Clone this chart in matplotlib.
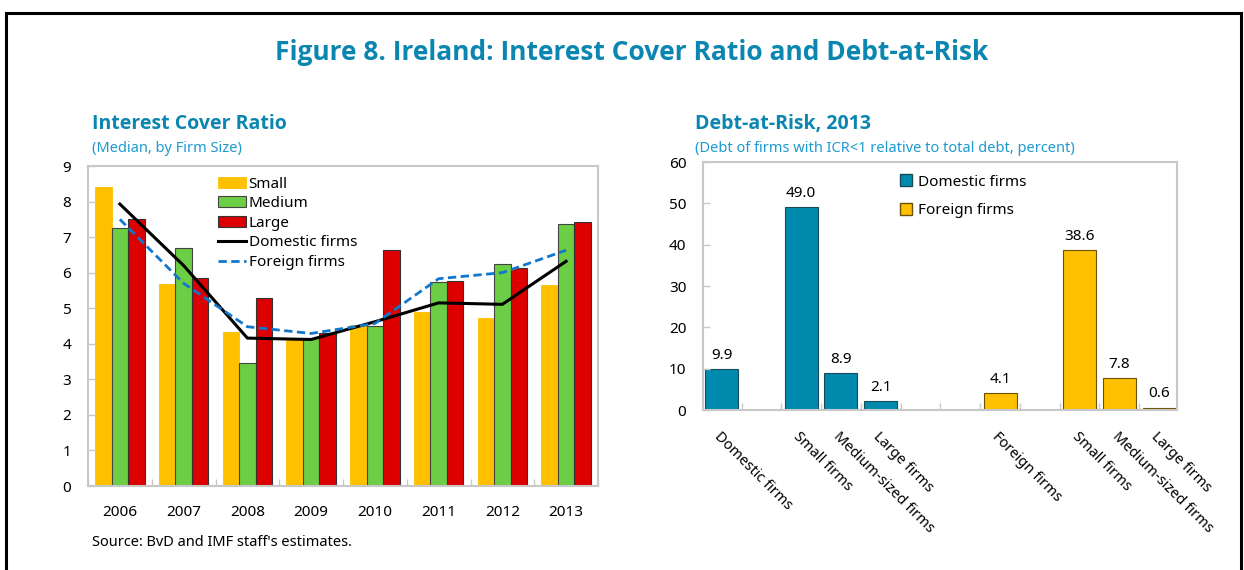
import numpy as np
import matplotlib
matplotlib.use("Agg")
import matplotlib.pyplot as plt
from matplotlib.lines import Line2D
from matplotlib.patches import Patch

plt.rcParams["font.family"] = ["Noto Sans", "DejaVu Sans"]
BOLD_FONT = ["Open Sans", "Lato", "DejaVu Sans"]

# ── data ────────────────────────────────────────────────────────────────
years = ["2006", "2007", "2008", "2009", "2010", "2011", "2012", "2013"]
small = [8.40, 5.67, 4.33, 4.12, 4.52, 4.90, 4.73, 5.65]
medium = [7.25, 6.68, 3.45, 4.15, 4.50, 5.73, 6.25, 7.38]
large = [7.50, 5.85, 5.28, 4.30, 6.65, 5.77, 6.13, 7.42]
domestic_line = [7.93, 6.20, 4.16, 4.12, 4.62, 5.15, 5.11, 6.32]
foreign_line = [7.50, 5.70, 4.48, 4.29, 4.57, 5.83, 6.00, 6.63]

dar_labels = ["Domestic firms", "", "Small firms", "Medium-sized firms",
              "Large firms", "", "", "Foreign firms", "", "Small firms",
              "Medium-sized firms", "Large firms"]
dar_values = [9.9, None, 49.0, 8.9, 2.1, None, None, 4.1, None, 38.6, 7.8, 0.6]
dar_group = ["dom", None, "dom", "dom", "dom", None, None, "for", None,
             "for", "for", "for"]

# ── style ───────────────────────────────────────────────────────────────
TITLE_C = "#0A86B0"
SUB_C = "#1E9AD0"
C_SMALL = "#FFC000"
C_MED = "#6CCE44"
C_LARGE = "#DD0000"
C_DOM = "#008AAE"
C_FOR = "#FFC000"
SPINE_C = "#C8C8C8"

W, H = 1244, 570
fig = plt.figure(figsize=(W / 100, H / 100), dpi=100)

# outer frame
fig.add_artist(Line2D([6 / W, 1241 / W], [1 - 13 / H, 1 - 13 / H],
                      color="black", lw=2.2, transform=fig.transFigure))
fig.add_artist(Line2D([6 / W, 6 / W], [0, 1 - 13 / H],
                      color="black", lw=2.2, transform=fig.transFigure))
fig.add_artist(Line2D([1241 / W, 1241 / W], [0, 1 - 13 / H],
                      color="black", lw=2.2, transform=fig.transFigure))

fig.text(632 / W, 1 - 52 / H,
         "Figure 8. Ireland: Interest Cover Ratio and Debt-at-Risk",
         ha="center", va="center", fontsize=19, fontweight="bold",
         color=TITLE_C, family=BOLD_FONT)


def style_axes(ax):
    for s in ax.spines.values():
        s.set_color(SPINE_C)
        s.set_linewidth(1.5)
    ax.tick_params(axis="both", which="both", direction="in", color=SPINE_C,
                   labelsize=11, length=5, width=1)


# ── left: Interest Cover Ratio ─────────────────────────────────────────
ax1 = fig.add_axes([88 / W, 1 - 486 / H, 510 / W, 320 / H])
x = np.arange(len(years))
bw = 0.26
b_s = ax1.bar(x - bw, small, bw, color=C_SMALL, edgecolor=C_SMALL, lw=0.6,
              label="Small")
b_m = ax1.bar(x, medium, bw, color=C_MED, edgecolor="#444444", lw=0.8,
              label="Medium")
b_l = ax1.bar(x + bw, large, bw, color=C_LARGE, edgecolor="#333333", lw=0.8,
              label="Large")
l_d, = ax1.plot(x, domestic_line, color="black", lw=2.2,
                label="Domestic firms")
l_f, = ax1.plot(x, foreign_line, color="#1177CC", lw=2, ls=(0, (3, 1.6)),
                label="Foreign firms")
ax1.set_xlim(-0.5, len(years) - 0.5)
ax1.set_ylim(0, 9)
ax1.set_yticks(range(0, 10))
ax1.set_xticks(x)
ax1.set_xticklabels(years)
ax1.set_xticks(np.arange(-0.5, len(years), 1), minor=True)
style_axes(ax1)
ax1.tick_params(axis="x", which="major", length=0, pad=14)
ax1.tick_params(axis="y", pad=12)

ax1.legend(handles=[b_s, b_m, b_l, l_d, l_f],
           loc="upper left", bbox_to_anchor=(0.255, 0.967), frameon=False,
           fontsize=11, handlelength=1.8, handletextpad=0.2,
           labelspacing=0.3, borderpad=0, borderaxespad=0)

fig.text(92 / W, 1 - 124 / H, "Interest Cover Ratio", ha="left",
         va="center", fontsize=14, fontweight="bold", color=TITLE_C,
         family=BOLD_FONT)
fig.text(92 / W, 1 - 149 / H, "(Median, by Firm Size)", ha="left",
         va="center", fontsize=10.5, color=SUB_C)
fig.text(92 / W, 1 - 542 / H, "Source: BvD and IMF staff's estimates.",
         ha="left", va="center", fontsize=10.5, color="black")

# ── right: Debt-at-Risk ────────────────────────────────────────────────
ax2 = fig.add_axes([703 / W, 1 - 410 / H, 474 / W, 248 / H])
xi = np.arange(len(dar_labels))
for i, (v, g) in enumerate(zip(dar_values, dar_group)):
    if v is None:
        continue
    col = C_DOM if g == "dom" else C_FOR
    edge = "#1A4A5A" if g == "dom" else "#6B5200"
    ax2.bar(i, v, 0.83, color=col, edgecolor=edge, lw=0.8)
    ax2.text(i, v + 1.5, f"{v:.1f}", ha="center", va="bottom", fontsize=11)
ax2.set_xlim(-0.47, len(dar_labels) - 0.55)
ax2.set_ylim(0, 60)
ax2.set_yticks(range(0, 61, 10))
ax2.set_xticks(xi)
ax2.set_xticklabels(dar_labels, rotation=-45, ha="left", va="top",
                    rotation_mode="anchor", fontsize=10.5)
ax2.set_xticks(np.arange(0.5, len(dar_labels) - 1, 1), minor=True)
style_axes(ax2)
ax2.tick_params(axis="x", which="major", length=0, pad=14, labelsize=10.5)
ax2.tick_params(axis="y", pad=12)

ax2.legend(handles=[Patch(facecolor=C_DOM, edgecolor="#1A4A5A",
                          label="Domestic firms"),
                    Patch(facecolor=C_FOR, edgecolor="#6B5200",
                          label="Foreign firms")],
           loc="upper left", bbox_to_anchor=(0.415, 0.95), frameon=False,
           fontsize=11, handlelength=0.8, handleheight=0.8,
           handletextpad=0.4, labelspacing=0.9, borderpad=0,
           borderaxespad=0)

fig.text(695 / W, 1 - 124 / H, "Debt-at-Risk, 2013", ha="left",
         va="center", fontsize=14, fontweight="bold", color=TITLE_C,
         family=BOLD_FONT)
fig.text(695 / W, 1 - 149 / H,
         "(Debt of firms with ICR<1 relative to total debt, percent)",
         ha="left", va="center", fontsize=10.5, color=SUB_C)

fig.savefig("out.png", dpi=100, facecolor="white")
